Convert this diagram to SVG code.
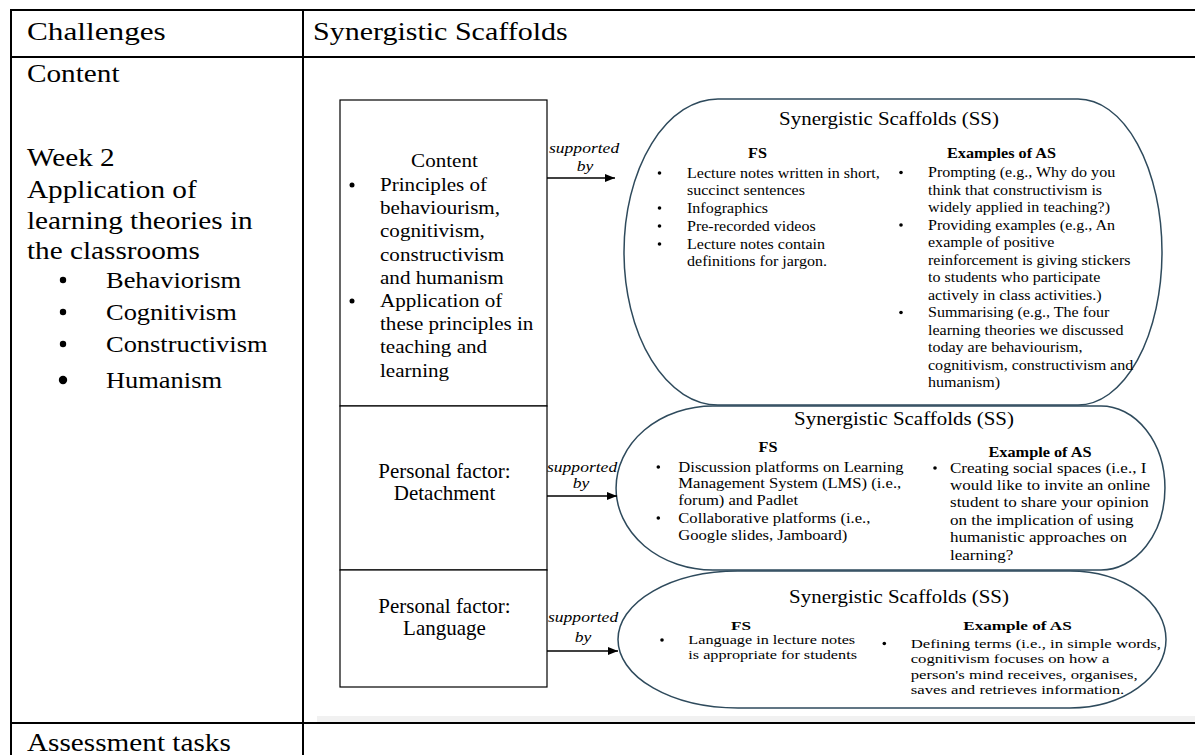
<svg xmlns="http://www.w3.org/2000/svg" width="1195" height="755" viewBox="0 0 1195 755">
<style>
.tbl{fill:none;stroke:#000;stroke-width:2}
.serif{font-family:"Liberation Serif","Times New Roman",serif;fill:#000}
.t25{font-size:25px}
.t23{font-size:23px}
.t19{font-size:19px}
.t20{font-size:20px}
.title{font-size:19px}
.b15{font-size:15px}
.b155{font-size:15.5px}
.b135{font-size:13.5px}
.bold{font-weight:bold}
.it{font-style:italic;font-size:15px}
.box{fill:#fff;stroke:#000;stroke-width:1.2}
.ss{fill:#fff;stroke:#2e4a5c;stroke-width:1.5}
.conn{stroke:#000;stroke-width:1.3;fill:none}
.dot{fill:#000}
</style>
<defs>
<marker id="arr" markerUnits="userSpaceOnUse" markerWidth="10" markerHeight="8" refX="10" refY="4" orient="auto">
<path d="M0,0 L10,4 L0,8 Z" fill="#000"/>
</marker>
</defs>
<rect width="1195" height="755" fill="#fff"/>

<g id="table">
<line class="tbl" x1="10" y1="10" x2="1195" y2="10"/>
<line class="tbl" x1="11" y1="9" x2="11" y2="755"/>
<line class="tbl" x1="303" y1="9" x2="303" y2="755"/>
<line class="tbl" x1="10" y1="57" x2="1195" y2="57"/>
<line class="tbl" x1="10" y1="723" x2="1195" y2="723"/>
<rect x="317" y="716" width="878" height="6" fill="#f1f1f1"/>
</g>

<g id="header" class="serif t25">
<text transform="translate(27 0) scale(1.25 1)" x="0" y="40">Challenges</text>
<text transform="translate(313 0) scale(1.2 1)" x="0" y="40">Synergistic Scaffolds</text>
</g>

<g id="challenge-content" class="serif">
<g class="t25" transform="translate(27 0) scale(1.17 1)">
<text x="0" y="82">Content</text>
<text x="0" y="166">Week 2</text>
<text x="0" y="198">Application of</text>
<text x="0" y="229">learning theories in</text>
<text x="0" y="259">the classrooms</text>
<text x="0" y="751">Assessment tasks</text>
</g>
<circle class="dot" cx="63" cy="280" r="3.2"/>
<circle class="dot" cx="63" cy="312" r="3.2"/>
<circle class="dot" cx="63" cy="344" r="3.2"/>
<circle class="dot" cx="63" cy="380" r="4.2"/>
<g class="t23" transform="translate(106 0) scale(1.15 1)">
<text x="0" y="288">Behaviorism</text>
<text x="0" y="320">Cognitivism</text>
<text x="0" y="352">Constructivism</text>
<text x="0" y="388">Humanism</text>
</g>
</g>

<g id="ss1">
<path class="ss" d="M718,99 H1078 A84,153 0 0 1 1078,405 H718 A94,153 0 0 1 718,99 Z"/>
<g class="serif">
<text class="title" transform="translate(889 0) scale(1.1 1)" x="0" y="125" text-anchor="middle">Synergistic Scaffolds (SS)</text>
<text class="b15 bold" transform="translate(757.5 0) scale(1.08 1)" x="0" y="158.5" text-anchor="middle">FS</text>
<text class="b15 bold" transform="translate(1001.5 0) scale(1.08 1)" x="0" y="158.5" text-anchor="middle">Examples of AS</text>
<g class="b15" transform="translate(687 0) scale(1.07 1)">
<text x="0" y="178">Lecture notes written in short,</text>
<text x="0" y="195">succinct sentences</text>
<text x="0" y="213">Infographics</text>
<text x="0" y="231">Pre-recorded videos</text>
<text x="0" y="249">Lecture notes contain</text>
<text x="0" y="266">definitions for jargon.</text>
</g>
<g class="b15" transform="translate(928 0) scale(1.07 1)">
<text x="0" y="177.3">Prompting (e.g., Why do you</text>
<text x="0" y="194.8">think that constructivism is</text>
<text x="0" y="212.3">widely applied in teaching?)</text>
<text x="0" y="229.8">Providing examples (e.g., An</text>
<text x="0" y="247.3">example of positive</text>
<text x="0" y="264.8">reinforcement is giving stickers</text>
<text x="0" y="282.3">to students who participate</text>
<text x="0" y="299.8">actively in class activities.)</text>
<text x="0" y="317.3">Summarising (e.g., The four</text>
<text x="0" y="334.8">learning theories we discussed</text>
<text x="0" y="352.3">today are behaviourism,</text>
<text x="0" y="369.8">cognitivism, constructivism and</text>
<text x="0" y="387.3">humanism)</text>
</g>
</g>
<circle class="dot" cx="659.5" cy="173" r="1.8"/>
<circle class="dot" cx="659.5" cy="208" r="1.8"/>
<circle class="dot" cx="659.5" cy="226" r="1.8"/>
<circle class="dot" cx="659.5" cy="244" r="1.8"/>
<circle class="dot" cx="901" cy="172.5" r="1.8"/>
<circle class="dot" cx="901" cy="225" r="1.8"/>
<circle class="dot" cx="901" cy="312.5" r="1.8"/>
</g>

<g id="ss2">
<path class="ss" d="M713,406 H1101 A64,82 0 0 1 1101,570 H713 A97,82 0 0 1 713,406 Z"/>
<g class="serif">
<text class="title" transform="translate(904 0) scale(1.1 1)" x="0" y="425" text-anchor="middle">Synergistic Scaffolds (SS)</text>
<text class="b155 bold" transform="translate(768 0) scale(1.05 1)" x="0" y="451.7" text-anchor="middle">FS</text>
<text class="b155 bold" transform="translate(1040 0) scale(1.05 1)" x="0" y="456.7" text-anchor="middle">Example of AS</text>
<g class="b155" transform="translate(678.3 0) scale(1.07 1)">
<text x="0" y="471.7">Discussion platforms on Learning</text>
<text x="0" y="488.3">Management System (LMS) (i.e.,</text>
<text x="0" y="505">forum) and Padlet</text>
<text x="0" y="523.3">Collaborative platforms (i.e.,</text>
<text x="0" y="540">Google slides, Jamboard)</text>
</g>
<g class="b155" transform="translate(950 0) scale(1.1 1)">
<text x="0" y="472.7">Creating social spaces (i.e., I</text>
<text x="0" y="490">would like to invite an online</text>
<text x="0" y="507.3">student to share your opinion</text>
<text x="0" y="525">on the implication of using</text>
<text x="0" y="541.7">humanistic approaches on</text>
<text x="0" y="560">learning?</text>
</g>
</g>
<circle class="dot" cx="658.3" cy="467" r="1.8"/>
<circle class="dot" cx="658.3" cy="518" r="1.8"/>
<circle class="dot" cx="935" cy="468" r="1.8"/>
</g>

<g id="ss3">
<path class="ss" d="M738,571 H1070 A96,68.5 0 0 1 1070,708 H738 A120,68.5 0 0 1 738,571 Z"/>
<g class="serif">
<text class="title" transform="translate(899 0) scale(1.1 1)" x="0" y="603" text-anchor="middle">Synergistic Scaffolds (SS)</text>
<text class="b135 bold" transform="translate(741 0) scale(1.27 1)" x="0" y="630.5" text-anchor="middle">FS</text>
<text class="b135 bold" transform="translate(1017.5 0) scale(1.27 1)" x="0" y="630" text-anchor="middle">Example of AS</text>
<g class="b135" transform="translate(688.3 0) scale(1.2 1)">
<text x="0" y="644.5">Language in lecture notes</text>
<text x="0" y="659.5">is appropriate for students</text>
</g>
<g class="b135" transform="translate(910.7 0) scale(1.24 1)">
<text x="0" y="648">Defining terms (i.e., in simple words,</text>
<text x="0" y="663.5">cognitivism focuses on how a</text>
<text x="0" y="679">person's mind receives, organises,</text>
<text x="0" y="694.5">saves and retrieves information.</text>
</g>
</g>
<circle class="dot" cx="662" cy="640" r="1.8"/>
<circle class="dot" cx="884.3" cy="643.5" r="1.8"/>
</g>

<g id="connectors">
<line class="conn" x1="547" y1="178" x2="615" y2="178" marker-end="url(#arr)"/>
<line class="conn" x1="547" y1="496" x2="617" y2="496" marker-end="url(#arr)"/>
<line class="conn" x1="547" y1="651" x2="618" y2="651" marker-end="url(#arr)"/>
<g class="serif it">
<text transform="translate(549 0) scale(1.17 1)" x="0" y="153.5">supported</text>
<text transform="translate(585 0) scale(1.17 1)" x="0" y="171" text-anchor="middle">by</text>
<text transform="translate(547 0) scale(1.17 1)" x="0" y="471.7">supported</text>
<text transform="translate(581 0) scale(1.17 1)" x="0" y="488.5" text-anchor="middle">by</text>
<text transform="translate(548 0) scale(1.17 1)" x="0" y="621.7">supported</text>
<text transform="translate(583 0) scale(1.17 1)" x="0" y="641.7" text-anchor="middle">by</text>
</g>
</g>

<g id="box-content">
<rect class="box" x="340" y="100" width="207" height="306"/>
<g class="serif t19">
<text transform="translate(444.5 0) scale(1.11 1)" x="0" y="167" text-anchor="middle">Content</text>
<g transform="translate(380 0) scale(1.11 1)">
<text x="0" y="191">Principles of</text>
<text x="0" y="214.2">behaviourism,</text>
<text x="0" y="237.4">cognitivism,</text>
<text x="0" y="260.6">constructivism</text>
<text x="0" y="283.8">and humanism</text>
<text x="0" y="307">Application of</text>
<text x="0" y="330.2">these principles in</text>
<text x="0" y="353.4">teaching and</text>
<text x="0" y="376.6">learning</text>
</g>
</g>
<circle class="dot" cx="352" cy="185" r="2.5"/>
<circle class="dot" cx="352" cy="301" r="2.5"/>
</g>

<g id="box-detachment">
<rect class="box" x="340" y="406" width="207" height="164"/>
<g class="serif t20">
<text transform="translate(444.5 0) scale(1.05 1)" x="0" y="478" text-anchor="middle">Personal factor:</text>
<text transform="translate(444.5 0) scale(1.05 1)" x="0" y="500" text-anchor="middle">Detachment</text>
</g>
</g>

<g id="box-language">
<rect class="box" x="340" y="570" width="207" height="117"/>
<g class="serif t20">
<text transform="translate(444.5 0) scale(1.05 1)" x="0" y="613" text-anchor="middle">Personal factor:</text>
<text transform="translate(444.5 0) scale(1.05 1)" x="0" y="635" text-anchor="middle">Language</text>
</g>
</g>
</svg>
